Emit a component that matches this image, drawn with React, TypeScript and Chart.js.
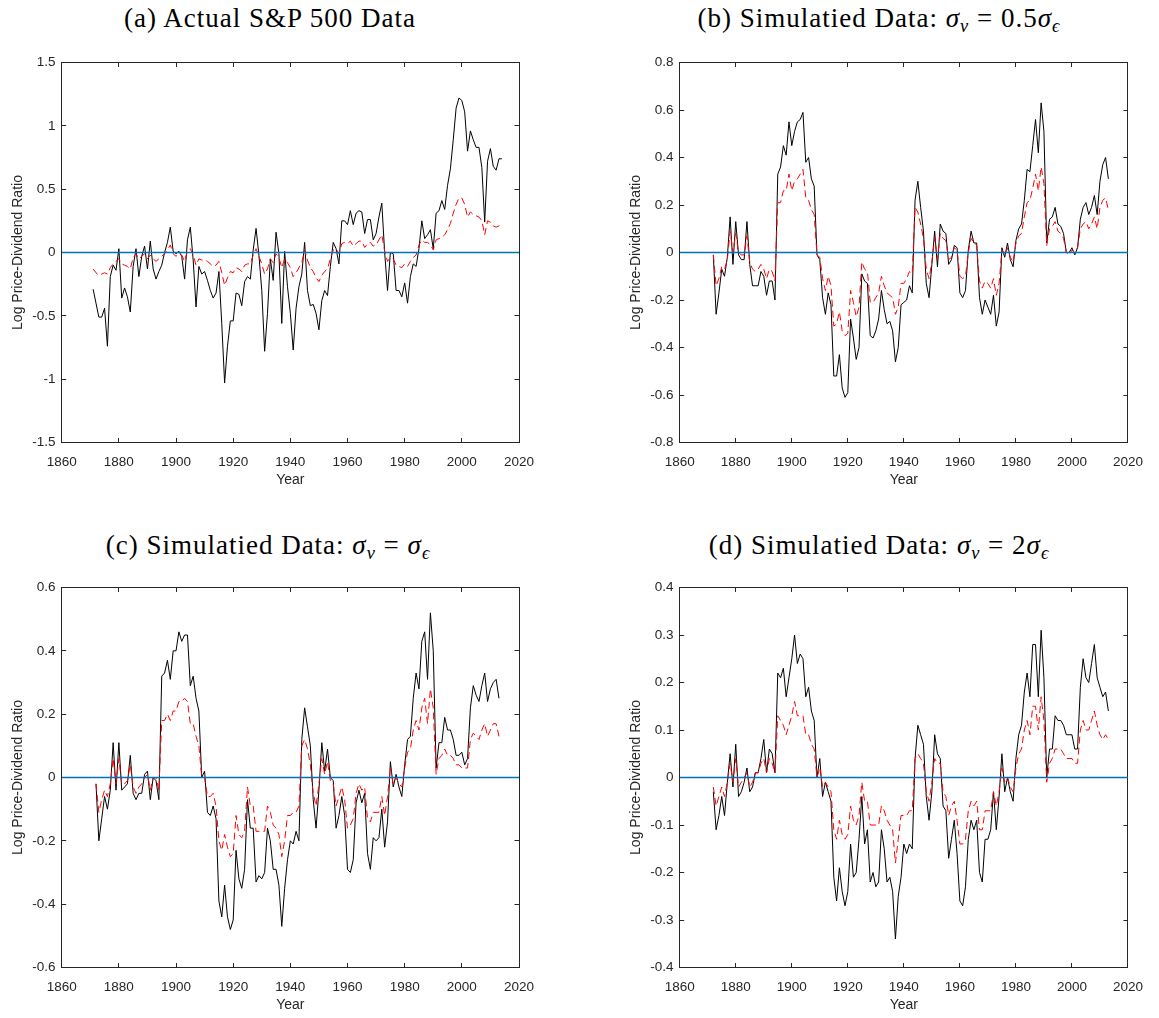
import React, { useEffect, useRef } from "react";
import { Chart, registerables } from "chart.js";

Chart.register(...registerables);

// ---------- data ----------
const X_MIN = 1860;
const X_MAX = 2020;
const X_STEP = 20;

const START_ACTUAL = 1871; // panel (a)
const START_SIM = 1872; // panels (b)-(d)

// (a) Actual S&P 500 data, 1871-2014
const actualBlack = [
  -0.29, -0.40, -0.51, -0.51, -0.44, -0.74, -0.19, -0.10, -0.14, 0.03,
  -0.36, -0.28, -0.35, -0.47, -0.11, 0.03, -0.19, -0.03, 0.05, -0.13,
  0.09, -0.13, -0.21, -0.15, -0.10, 0.00, 0.08, 0.20, 0.01, -0.01,
  0.01, -0.03, -0.21, 0.10, 0.20, -0.06, -0.43, -0.11, -0.17, -0.15,
  -0.22, -0.30, -0.36, -0.32, -0.15, -0.56, -1.03, -0.74, -0.54, -0.54,
  -0.32, -0.33, -0.42, -0.23, -0.19, -0.21, 0.02, 0.19, -0.02, -0.30,
  -0.78, -0.48, -0.05, -0.22, 0.16, -0.01, -0.56, 0.01, -0.27, -0.48,
  -0.77, -0.44, -0.27, -0.17, 0.08, -0.30, -0.42, -0.41, -0.48, -0.61,
  -0.38, -0.30, -0.34, -0.11, 0.08, 0.03, -0.09, 0.25, 0.25, 0.22,
  0.33, 0.22, 0.31, 0.33, 0.32, 0.15, 0.26, 0.26, 0.10, 0.15,
  0.28, 0.39, 0.00, -0.30, 0.00, -0.01, -0.30, -0.30, -0.35, -0.24,
  -0.40, -0.19, -0.09, -0.11, 0.03, 0.25, 0.11, 0.14, 0.18, 0.03,
  0.31, 0.33, 0.41, 0.34, 0.53, 0.66, 0.89, 1.14, 1.22, 1.20,
  1.11, 0.80, 0.96, 0.89, 0.83, 0.83, 0.67, 0.24, 0.72, 0.82,
  0.68, 0.65, 0.74, 0.74,
];
const actualRed = [
  -0.13, -0.16, -0.18, -0.17, -0.16, -0.17, -0.12, -0.09, -0.07, -0.05,
  -0.09, -0.10, -0.11, -0.13, -0.04, -0.01, -0.05, -0.03, -0.01, -0.05,
  -0.02, -0.05, -0.07, -0.05, -0.03, -0.01, 0.02, 0.06, -0.01, -0.03,
  -0.01, -0.02, -0.07, 0.01, 0.03, -0.02, -0.10, -0.05, -0.06, -0.06,
  -0.07, -0.09, -0.11, -0.10, -0.07, -0.16, -0.26, -0.20, -0.15, -0.16,
  -0.12, -0.13, -0.15, -0.10, -0.09, -0.09, -0.02, 0.03, -0.03, -0.09,
  -0.17, -0.13, -0.05, -0.08, -0.01, -0.04, -0.12, -0.05, -0.08, -0.12,
  -0.19, -0.16, -0.12, -0.08, 0.02, -0.06, -0.12, -0.15, -0.20, -0.23,
  -0.18, -0.15, -0.13, -0.05, 0.02, 0.03, -0.01, 0.07, 0.08, 0.07,
  0.09, 0.05, 0.07, 0.09, 0.09, 0.04, 0.07, 0.08, 0.05, 0.06,
  0.10, 0.14, 0.01, -0.07, -0.04, -0.05, -0.10, -0.11, -0.12, -0.09,
  -0.11, -0.07, -0.04, -0.02, 0.06, 0.10, 0.08, 0.08, 0.06, 0.02,
  0.10, 0.11, 0.12, 0.14, 0.18, 0.23, 0.31, 0.38, 0.43, 0.43,
  0.38, 0.28, 0.32, 0.30, 0.29, 0.28, 0.25, 0.14, 0.25, 0.24,
  0.21, 0.20, 0.21, 0.23,
];

// (b) sigma_nu = 0.5 sigma_eps, 1872-2013
const simHalfBlack = [
  -0.01, -0.26, -0.17, -0.07, -0.10, -0.02, 0.15, -0.05, 0.13, -0.01,
  -0.03, -0.03, 0.13, -0.05, -0.14, -0.14, -0.14, -0.08, -0.10, -0.18,
  -0.12, -0.12, -0.20, 0.33, 0.36, 0.45, 0.41, 0.55, 0.45, 0.51,
  0.55, 0.56, 0.59, 0.38, 0.40, 0.31, 0.28, -0.01, -0.03, -0.19,
  -0.26, -0.17, -0.22, -0.52, -0.52, -0.43, -0.57, -0.61, -0.59, -0.28,
  -0.36, -0.45, -0.40, -0.09, -0.12, -0.13, -0.35, -0.36, -0.33, -0.28,
  -0.16, -0.24, -0.30, -0.29, -0.33, -0.46, -0.40, -0.22, -0.21, -0.20,
  -0.14, -0.17, 0.22, 0.30, 0.19, 0.09, -0.13, -0.19, -0.05, 0.09,
  -0.06, 0.12, 0.09, 0.08, -0.05, -0.03, 0.03, 0.02, -0.17, -0.19,
  -0.16, 0.01, 0.09, 0.04, 0.04, -0.19, -0.26, -0.20, -0.23, -0.26,
  -0.18, -0.31, -0.25, 0.02, -0.02, 0.04, -0.03, -0.06, 0.05, 0.10,
  0.12, 0.22, 0.35, 0.34, 0.45, 0.56, 0.42, 0.63, 0.51, 0.04,
  0.14, 0.15, 0.19, 0.12, 0.11, 0.08, 0.00, 0.00, 0.02, -0.01,
  0.02, 0.14, 0.19, 0.21, 0.16, 0.19, 0.24, 0.16, 0.30, 0.37,
  0.40, 0.31,
];
const simHalfRed = [
  -0.01, -0.14, -0.11, -0.06, -0.07, -0.03, 0.09, 0.00, 0.08, 0.00,
  -0.01, -0.01, 0.07, -0.04, -0.07, -0.08, -0.07, -0.05, -0.07, -0.11,
  -0.07, -0.08, -0.12, 0.21, 0.21, 0.26, 0.26, 0.33, 0.26, 0.30,
  0.31, 0.33, 0.35, 0.23, 0.22, 0.18, 0.16, -0.01, -0.02, -0.11,
  -0.16, -0.10, -0.14, -0.31, -0.30, -0.25, -0.33, -0.35, -0.34, -0.16,
  -0.21, -0.27, -0.23, -0.04, -0.07, -0.08, -0.21, -0.21, -0.19, -0.17,
  -0.10, -0.14, -0.17, -0.18, -0.19, -0.26, -0.23, -0.13, -0.13, -0.11,
  -0.08, -0.09, 0.19, 0.17, 0.12, 0.06, -0.07, -0.11, -0.04, 0.06,
  -0.03, 0.08, 0.06, 0.05, -0.03, -0.02, 0.02, 0.01, -0.10, -0.11,
  -0.10, 0.00, 0.06, 0.04, 0.03, -0.12, -0.15, -0.12, -0.13, -0.15,
  -0.11, -0.18, -0.13, 0.01, -0.01, 0.02, -0.02, -0.04, 0.04, 0.07,
  0.08, 0.15, 0.21, 0.22, 0.27, 0.33, 0.26, 0.36, 0.29, 0.03,
  0.10, 0.11, 0.13, 0.09, 0.08, 0.06, 0.00, -0.01, 0.01, 0.00,
  0.02, 0.10, 0.12, 0.13, 0.10, 0.12, 0.15, 0.10, 0.19, 0.22,
  0.23, 0.18,
];

// (c) sigma_nu = sigma_eps, 1872-2013
const simOneBlack = [
  -0.02, -0.20, -0.13, -0.06, -0.10, -0.04, 0.11, -0.04, 0.11, -0.04,
  -0.03, -0.02, 0.07, -0.05, -0.07, -0.05, -0.05, 0.01, 0.02, -0.07,
  0.00, -0.01, -0.07, 0.32, 0.33, 0.37, 0.31, 0.40, 0.40, 0.46,
  0.43, 0.45, 0.45, 0.29, 0.32, 0.25, 0.21, 0.00, 0.02, -0.11,
  -0.12, -0.09, -0.13, -0.39, -0.44, -0.34, -0.44, -0.48, -0.45, -0.23,
  -0.32, -0.35, -0.29, -0.07, -0.16, -0.16, -0.33, -0.31, -0.32, -0.30,
  -0.16, -0.20, -0.29, -0.29, -0.34, -0.47, -0.35, -0.26, -0.20, -0.21,
  -0.17, -0.20, 0.12, 0.22, 0.16, 0.10, -0.07, -0.16, -0.04, 0.11,
  0.02, 0.09, 0.00, -0.01, -0.16, -0.12, -0.06, -0.12, -0.29, -0.30,
  -0.26, -0.08, -0.04, -0.08, -0.05, -0.24, -0.29, -0.19, -0.20, -0.19,
  -0.10, -0.22, -0.14, 0.05, -0.03, 0.01, -0.03, -0.06, 0.04, 0.12,
  0.13, 0.25, 0.33, 0.28, 0.43, 0.46, 0.31, 0.52, 0.40, 0.03,
  0.11, 0.11, 0.19, 0.15, 0.15, 0.12, 0.07, 0.07, 0.08, 0.04,
  0.06, 0.22, 0.29, 0.26, 0.24, 0.29, 0.33, 0.24, 0.28, 0.30,
  0.31, 0.25,
];
const simOneRed = [
  -0.02, -0.11, -0.07, -0.04, -0.06, -0.02, 0.06, -0.02, 0.06, -0.02,
  -0.02, -0.01, 0.04, -0.03, -0.05, -0.03, -0.02, 0.00, 0.01, -0.04,
  0.00, 0.00, -0.04, 0.18, 0.18, 0.20, 0.18, 0.21, 0.21, 0.24,
  0.24, 0.25, 0.24, 0.17, 0.17, 0.13, 0.10, 0.00, 0.00, -0.06,
  -0.06, -0.05, -0.09, -0.20, -0.23, -0.18, -0.22, -0.25, -0.24, -0.12,
  -0.18, -0.19, -0.17, -0.03, -0.09, -0.09, -0.17, -0.17, -0.17, -0.17,
  -0.09, -0.11, -0.15, -0.16, -0.18, -0.25, -0.20, -0.12, -0.12, -0.11,
  -0.11, -0.09, 0.10, 0.12, 0.09, 0.04, -0.05, -0.09, -0.02, 0.06,
  0.01, 0.05, -0.01, -0.02, -0.09, -0.06, -0.03, -0.07, -0.16, -0.15,
  -0.13, -0.05, -0.02, -0.04, -0.03, -0.13, -0.14, -0.11, -0.11, -0.11,
  -0.06, -0.12, -0.06, 0.03, -0.02, 0.00, -0.02, -0.03, 0.03, 0.08,
  0.09, 0.15, 0.18, 0.15, 0.22, 0.25, 0.17, 0.28, 0.22, 0.01,
  0.06, 0.07, 0.09, 0.07, 0.07, 0.06, 0.04, 0.04, 0.03, 0.03,
  0.03, 0.12, 0.14, 0.13, 0.12, 0.15, 0.17, 0.13, 0.15, 0.17,
  0.17, 0.13,
];

// (d) sigma_nu = 2 sigma_eps, 1872-2013
const simTwoBlack = [
  -0.03, -0.11, -0.08, -0.04, -0.08, -0.01, 0.05, -0.02, 0.07, -0.04,
  -0.03, -0.01, 0.02, -0.03, -0.02, 0.01, 0.01, 0.04, 0.08, 0.01,
  0.06, 0.05, 0.01, 0.22, 0.21, 0.23, 0.17, 0.21, 0.25, 0.30,
  0.24, 0.26, 0.25, 0.17, 0.19, 0.14, 0.12, 0.00, 0.04, -0.04,
  -0.01, -0.03, -0.05, -0.21, -0.26, -0.19, -0.24, -0.27, -0.24, -0.14,
  -0.21, -0.20, -0.13, -0.04, -0.14, -0.11, -0.22, -0.20, -0.23, -0.22,
  -0.11, -0.15, -0.22, -0.21, -0.24, -0.34, -0.25, -0.21, -0.14, -0.16,
  -0.14, -0.15, 0.04, 0.11, 0.09, 0.07, -0.04, -0.09, -0.03, 0.09,
  0.05, 0.04, -0.06, -0.07, -0.17, -0.13, -0.09, -0.16, -0.26, -0.27,
  -0.23, -0.13, -0.09, -0.11, -0.09, -0.20, -0.22, -0.13, -0.13, -0.11,
  -0.03, -0.11, -0.04, 0.05, -0.03, 0.00, -0.03, -0.05, 0.04, 0.09,
  0.11, 0.18, 0.22, 0.17, 0.28, 0.28, 0.17, 0.31, 0.21, 0.00,
  0.06, 0.06, 0.13, 0.12, 0.12, 0.11, 0.09, 0.09, 0.09, 0.06,
  0.06, 0.19, 0.25, 0.21, 0.20, 0.24, 0.28, 0.21, 0.19, 0.17,
  0.18, 0.14,
];
const simTwoRed = [
  -0.02, -0.06, -0.04, -0.02, -0.04, -0.01, 0.03, -0.01, 0.04, -0.02,
  -0.01, 0.00, 0.01, -0.02, -0.01, 0.01, 0.01, 0.03, 0.04, 0.01,
  0.04, 0.03, 0.01, 0.13, 0.12, 0.11, 0.09, 0.11, 0.13, 0.16,
  0.13, 0.13, 0.13, 0.09, 0.09, 0.07, 0.06, 0.00, 0.02, -0.02,
  -0.01, -0.02, -0.03, -0.11, -0.13, -0.09, -0.12, -0.13, -0.12, -0.06,
  -0.09, -0.10, -0.08, -0.01, -0.05, -0.05, -0.10, -0.10, -0.10, -0.10,
  -0.06, -0.07, -0.09, -0.10, -0.11, -0.18, -0.13, -0.08, -0.08, -0.08,
  -0.07, -0.07, 0.04, 0.05, 0.04, 0.03, -0.03, -0.05, -0.01, 0.04,
  0.03, 0.03, -0.03, -0.04, -0.08, -0.06, -0.05, -0.09, -0.14, -0.14,
  -0.13, -0.07, -0.05, -0.06, -0.05, -0.11, -0.11, -0.07, -0.07, -0.07,
  -0.03, -0.06, -0.03, 0.02, -0.01, 0.00, -0.02, -0.03, 0.02, 0.05,
  0.06, 0.10, 0.12, 0.09, 0.15, 0.15, 0.10, 0.17, 0.12, -0.01,
  0.03, 0.04, 0.06, 0.06, 0.06, 0.05, 0.04, 0.04, 0.04, 0.03,
  0.03, 0.10, 0.12, 0.10, 0.10, 0.12, 0.14, 0.11, 0.09, 0.08,
  0.09, 0.08,
];

// ---------- styling ----------
const AXIS_COLOR = "#262626";
const SANS = '"Liberation Sans", Arial, Helvetica, sans-serif';
const SERIF = '"Liberation Serif", "Times New Roman", serif';

const CANVAS_H = 453;
const PLOT_TOP = 22.5; // inside canvas
const PLOT_BOTTOM = 402.5; // inside canvas
const PLOT_LEFT = 61.7; // inside canvas
const PLOT_RIGHT = 519; // inside canvas
const XAXIS_H = 48.4;
const TICK_LEN = -4.5;

function fmt(v: number) {
  const n = Number(Number(v).toFixed(2));
  return String(n === 0 ? 0 : n);
}

type PanelProps = {
  left: number;
  top: number;
  width: number;
  black: number[];
  red: number[];
  start: number;
  yMin: number;
  yMax: number;
  yStep: number;
};

function Panel({ left, top, width, black, red, start, yMin, yMax, yStep }: PanelProps) {
  const ref = useRef<HTMLCanvasElement | null>(null);
  useEffect(() => {
    const canvas = ref.current;
    if (!canvas) return;
    const blackPts = black.map((y, i) => ({ x: start + i, y }));
    const redPts = red.map((y, i) => ({ x: start + i, y }));
    const zeroPts = [
      { x: X_MIN, y: 0 },
      { x: X_MAX, y: 0 },
    ];
    const gridCfg = {
      display: true,
      drawOnChartArea: false,
      drawTicks: true,
      tickLength: TICK_LEN,
      color: AXIS_COLOR,
      lineWidth: 1,
    };
    const borderCfg = { display: true, color: AXIS_COLOR, width: 1 };
    const chart = new Chart(canvas, {
      type: "line",
      data: {
        datasets: [
          {
            label: "zero",
            data: zeroPts,
            borderColor: "#0072BD",
            borderWidth: 1.4,
            pointRadius: 0,
            order: 0,
          },
          {
            label: "simulated",
            data: redPts,
            borderColor: "#FF0000",
            borderWidth: 1,
            borderDash: [7, 4],
            pointRadius: 0,
            order: 1,
          },
          {
            label: "data",
            data: blackPts,
            borderColor: "#000000",
            borderWidth: 1,
            pointRadius: 0,
            order: 2,
          },
        ],
      },
      options: {
        animation: false,
        responsive: false,
        devicePixelRatio: 1,
        events: [],
        layout: {
          padding: {
            left: 0,
            top: PLOT_TOP,
            right: width - PLOT_RIGHT,
            bottom: CANVAS_H - PLOT_BOTTOM - XAXIS_H,
          },
        },
        elements: { line: { tension: 0 }, point: { radius: 0 } },
        plugins: {
          legend: { display: false },
          tooltip: { enabled: false },
          title: { display: false },
        },
        scales: {
          x: {
            type: "linear",
            position: "bottom",
            min: X_MIN,
            max: X_MAX,
            grid: gridCfg,
            border: borderCfg,
            ticks: {
              stepSize: X_STEP,
              autoSkip: false,
              maxRotation: 0,
              padding: 16,
              color: AXIS_COLOR,
              font: { family: SANS, size: 13.5 },
              callback: (v: any) => String(v),
            },
            title: {
              display: true,
              text: "Year",
              color: AXIS_COLOR,
              font: { family: SANS, size: 14 },
              padding: { top: 0, bottom: 2 },
            },
            afterFit: (s: any) => {
              s.height = XAXIS_H;
            },
          },
          x2: {
            type: "linear",
            position: "top",
            min: X_MIN,
            max: X_MAX,
            grid: gridCfg,
            border: borderCfg,
            ticks: { stepSize: X_STEP, display: false, autoSkip: false },
            afterFit: (s: any) => {
              s.height = 0;
            },
          },
          y: {
            type: "linear",
            position: "left",
            min: yMin,
            max: yMax,
            grid: gridCfg,
            border: borderCfg,
            ticks: {
              stepSize: yStep,
              autoSkip: false,
              padding: 10.7,
              color: AXIS_COLOR,
              font: { family: SANS, size: 13.5 },
              callback: (v: any) => fmt(v),
            },
            title: {
              display: true,
              text: "Log Price-Dividend Ratio",
              color: AXIS_COLOR,
              font: { family: SANS, size: 14 },
              padding: { top: 9.6, bottom: 0 },
            },
            afterFit: (s: any) => {
              s.width = PLOT_LEFT;
            },
          },
          y2: {
            type: "linear",
            position: "right",
            min: yMin,
            max: yMax,
            grid: gridCfg,
            border: borderCfg,
            ticks: { stepSize: yStep, display: false, autoSkip: false },
            afterFit: (s: any) => {
              s.width = 0;
            },
          },
        },
      } as any,
    });
    return () => chart.destroy();
  }, []);
  return (
    <canvas
      ref={ref}
      width={width}
      height={CANVAS_H}
      style={{ position: "absolute", left, top, width, height: CANVAS_H, display: "block" }}
    />
  );
}

const subStyle: React.CSSProperties = {
  fontSize: "0.68em",
  verticalAlign: "-0.28em",
  lineHeight: 0,
};

function Title({ cx, cy, children }: { cx: number; cy: number; children: React.ReactNode }) {
  return (
    <div
      style={{
        position: "absolute",
        left: cx - 300,
        top: cy - 16,
        width: 600,
        height: 32,
        lineHeight: "32px",
        textAlign: "center",
        fontFamily: SERIF,
        fontSize: 27,
        letterSpacing: "1px",
        color: "#000",
        whiteSpace: "nowrap",
      }}
    >
      {children}
    </div>
  );
}

function SigmaNu() {
  return (
    <>
      <i>σ</i>
      <span style={subStyle}>
        <i>ν</i>
      </span>
    </>
  );
}
function SigmaEps() {
  return (
    <>
      <i>σ</i>
      <span style={subStyle}>
        <i>ϵ</i>
      </span>
    </>
  );
}

export default function App() {
  useEffect(() => {
    document.body.style.margin = "0";
    document.body.style.overflow = "hidden";
  }, []);
  return (
    <div style={{ position: "absolute", left: 0, top: 0, width: 1159, height: 1018, background: "#fff" }}>
      <Title cx={270} cy={18}>(a) Actual S&amp;P 500 Data</Title>
      <Title cx={879} cy={18}>
        (b) Simulatied Data: <SigmaNu /> = 0.5<SigmaEps />
      </Title>
      <Title cx={268} cy={545}>
        (c) Simulatied Data: <SigmaNu /> = <SigmaEps />
      </Title>
      <Title cx={879} cy={545}>
        (d) Simulatied Data: <SigmaNu /> = 2<SigmaEps />
      </Title>
      <Panel left={0} top={40} width={580} black={actualBlack} red={actualRed} start={START_ACTUAL} yMin={-1.5} yMax={1.5} yStep={0.5} />
      <Panel left={618} top={40} width={541} black={simHalfBlack} red={simHalfRed} start={START_SIM} yMin={-0.8} yMax={0.8} yStep={0.2} />
      <Panel left={0} top={565} width={580} black={simOneBlack} red={simOneRed} start={START_SIM} yMin={-0.6} yMax={0.6} yStep={0.2} />
      <Panel left={618} top={565} width={541} black={simTwoBlack} red={simTwoRed} start={START_SIM} yMin={-0.4} yMax={0.4} yStep={0.1} />
    </div>
  );
}
